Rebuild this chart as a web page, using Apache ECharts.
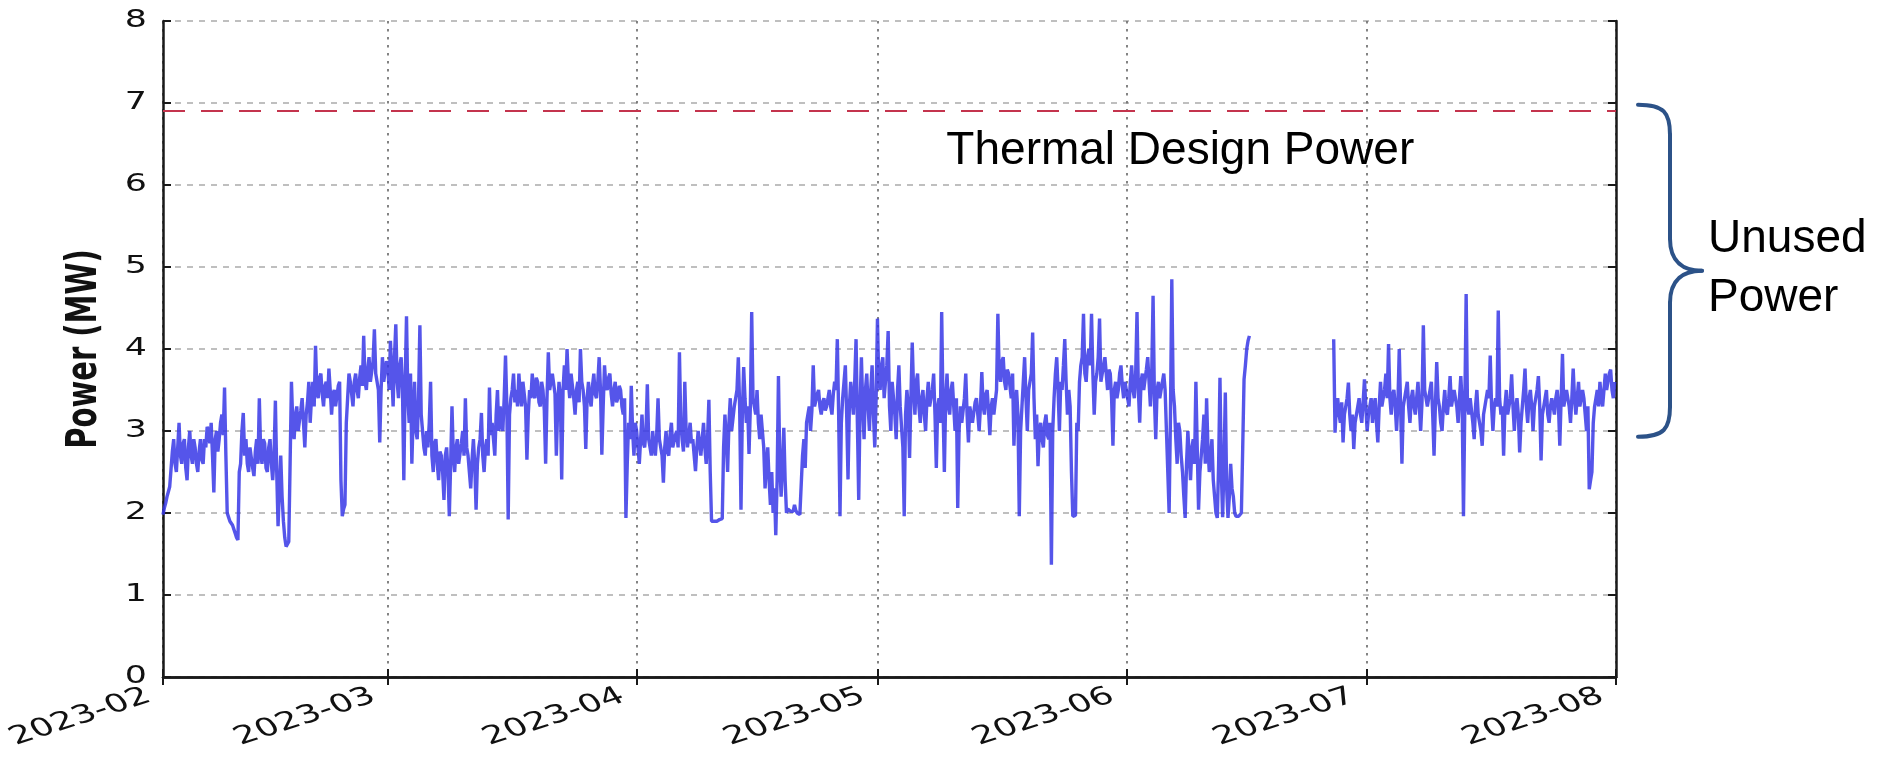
<!DOCTYPE html>
<html>
<head>
<meta charset="utf-8">
<script src="https://cdn.jsdelivr.net/npm/echarts@6/dist/echarts.min.js"></script>
<style>
html,body{margin:0;padding:0;background:#fff;}
#chart{width:1878px;height:761px;}
</style>
</head>
<body>
<div id="chart"></div>
<script>
// ---- data: 6 readings per day (every 4 hours), starting 2023-02-01 00:00, one row per day ----
const startYear = 2023, startMonth = 1, startDay = 1; // Feb 1 (JS month index)
const stepHours = 4;
const powerFeb = [
 1.98,2.06,2.12,2.2,2.26,2.32, 2.3,2.75,2.9,2.6,2.5,2.8, 3.1,2.7,2.6,2.85,2.9,2.55, 2.4,2.8,3.0,2.7,2.6,2.9,
 2.8,2.6,2.5,2.75,2.9,2.65, 2.6,2.9,2.8,3.05,3.0,2.85, 3.1,2.7,2.25,2.9,3.0,2.75, 2.9,3.1,3.2,2.95,3.53,2.7,
 2.0,1.95,1.9,1.88,1.85,1.8, 1.75,1.7,1.67,2.5,2.6,3.0, 3.22,2.7,2.9,2.6,2.5,2.8, 2.8,2.55,2.45,2.75,2.9,2.6,
 3.4,2.75,2.6,2.9,2.85,2.55, 2.5,2.8,2.9,2.6,2.4,2.7, 3.37,2.5,1.84,2.3,2.7,2.2, 1.9,1.7,1.59,1.62,1.65,2.6,
 3.6,3.1,2.9,3.2,3.3,3.0, 3.0,3.25,3.4,3.1,2.8,3.2, 3.35,3.6,3.1,3.4,3.6,3.3, 4.04,3.5,3.4,3.65,3.7,3.45,
 3.3,3.55,3.6,3.4,3.76,3.5, 3.2,3.45,3.5,3.3,3.3,3.55, 3.6,2.4,1.96,2.05,2.1,3.1, 3.4,3.7,3.6,3.45,3.3,3.6,
 3.7,3.5,3.4,3.65,3.8,3.55, 4.16,3.6,3.5,3.75,3.9,3.6, 3.6,3.85,4.24,3.7,3.7,3.5, 2.86,3.5,3.9,3.6,3.6,3.85
];
const powerMar = [
 3.8,3.5,4.1,3.7,3.3,3.9, 4.3,3.6,3.4,3.8,3.9,3.5, 2.4,3.6,4.4,3.4,3.1,3.7, 2.6,3.2,3.6,3.0,2.9,3.4,
 4.29,3.2,3.0,2.8,2.7,3.0, 2.8,3.1,3.6,2.7,2.5,2.85, 2.9,2.6,2.4,2.75,2.7,2.5, 2.16,2.7,2.8,2.5,1.96,2.6,
 3.3,2.7,2.5,2.8,2.9,2.6, 2.6,2.85,3.0,2.7,3.4,2.8, 2.7,2.5,2.3,2.65,2.9,2.6, 2.04,2.6,2.8,2.9,3.22,2.7,
 2.5,2.8,2.9,2.7,3.53,2.95, 3.1,2.9,2.7,3.2,3.5,3.0, 3.3,3.1,3.0,3.4,3.92,3.3, 1.92,3.2,3.4,3.5,3.7,3.35,
 3.5,3.3,3.7,3.45,3.3,3.6, 3.6,3.3,2.65,3.2,3.5,3.4, 3.7,3.45,3.4,3.65,3.6,3.35, 3.3,3.6,3.5,3.25,2.6,3.4,
 3.96,3.5,3.5,3.7,3.7,3.45, 2.7,3.3,3.6,3.4,2.41,3.5, 3.8,3.5,4.0,3.6,3.4,3.7, 3.7,3.4,3.2,3.5,3.6,3.35,
 4.0,3.6,3.5,3.3,2.78,3.4, 3.6,3.4,3.3,3.55,3.7,3.45, 3.4,3.6,3.9,3.5,2.71,3.3, 3.8,3.55,3.5,3.65,3.7,3.45,
 3.3,3.5,3.6,3.35,3.4,3.55, 3.5,3.3,3.2,3.4,1.94,2.6, 3.1,2.9,3.55,3.0,2.7,3.1
];
const powerApr = [
 3.0,2.8,2.6,2.9,3.2,2.85, 2.8,3.0,3.57,2.9,2.9,2.7, 3.0,2.8,2.7,2.95,3.4,2.9, 2.9,2.7,2.37,2.8,3.0,2.75,
 2.7,2.95,3.1,2.8,2.8,2.95, 3.0,2.8,3.96,3.1,2.9,2.75, 3.6,3.0,2.8,2.95,3.1,2.85, 2.9,2.7,2.51,2.8,3.0,2.85,
 2.7,2.9,3.1,2.8,2.6,2.9, 3.38,2.5,1.9,1.9,1.9,1.91, 1.9,1.91,1.92,1.92,1.93,2.8, 3.2,2.9,2.5,3.1,3.4,3.0,
 3.0,3.3,3.3,3.5,3.9,3.3, 2.04,3.2,3.78,3.4,3.1,3.3, 2.72,3.3,4.45,3.4,3.3,3.2, 3.5,3.1,2.9,3.2,3.2,2.8,
 2.3,2.6,2.8,2.4,2.1,2.5, 2.0,2.3,1.73,2.4,3.67,2.6, 2.2,2.6,3.04,2.4,2.0,2.05, 2.05,2.02,2.0,2.02,2.1,2.03,
 2.0,2.02,1.98,2.0,2.7,2.9, 2.55,3.1,3.2,3.3,3.0,3.25, 3.8,3.3,3.3,3.45,3.5,3.3, 3.2,3.35,3.4,3.25,3.3,3.4,
 3.5,3.3,3.2,3.45,3.6,3.5, 4.12,3.2,1.96,3.1,3.4,3.6, 3.8,3.2,2.41,3.3,3.6,3.4, 3.2,3.6,4.12,3.1,2.16,3.3,
 3.9,3.3,2.9,3.5,3.7,3.3, 3.0,3.5,3.8,3.2,2.8,3.4
];
const powerMay = [
 4.37,3.6,3.5,3.8,3.9,3.4, 3.4,3.8,4.22,3.3,3.0,3.6, 3.6,3.2,2.9,3.5,3.8,3.3, 3.3,2.8,1.96,3.2,3.5,3.3,
 2.67,3.4,4.08,3.5,3.2,3.6, 3.7,3.3,3.1,3.4,3.5,3.2, 3.0,3.4,3.6,3.3,3.3,3.5, 3.7,3.2,2.55,3.3,3.4,3.1,
 4.45,3.3,2.5,3.4,3.7,3.3, 3.2,3.5,3.6,3.3,3.0,3.4, 2.06,3.0,3.3,3.1,3.1,3.4, 3.7,3.2,2.86,3.3,3.3,3.1,
 3.1,3.35,3.4,3.2,3.0,3.3, 3.72,3.3,3.2,3.45,3.5,3.25, 2.95,3.3,3.4,3.2,3.2,3.5, 4.43,3.7,3.6,3.85,3.9,3.6,
 3.5,3.75,3.7,3.55,3.4,3.7, 2.82,3.3,3.5,3.2,1.96,3.0, 3.3,3.6,3.9,3.4,3.0,3.5, 3.5,3.7,4.2,3.4,2.9,3.2,
 2.57,3.0,3.1,2.9,2.8,3.1, 3.2,2.95,2.9,3.1,1.37,3.0, 3.4,3.7,3.9,3.5,3.0,3.6, 3.5,3.8,4.12,3.6,3.2,3.5,
 3.3,2.5,1.96,1.96,1.97,3.1, 3.0,3.6,3.8,3.9,4.43,3.7, 3.6,3.9,4.0,3.8,4.43,3.7, 3.2,3.6,3.7,3.9,4.37,3.6,
 3.6,3.8,3.9,3.7,3.5,3.75, 3.7,3.4,2.82,3.5,3.6,3.4, 3.5,3.7,3.8,3.55,3.4,3.6
];
const powerJun = [
 3.6,3.4,3.3,3.6,3.8,3.5, 3.4,3.7,4.45,3.5,3.1,3.6, 3.7,3.5,3.5,3.75,3.9,3.6, 3.3,3.7,4.65,3.4,2.9,3.5,
 3.6,3.4,3.4,3.6,3.7,3.5, 3.0,2.5,2.0,3.2,4.85,3.5, 3.3,2.9,2.6,3.1,3.0,2.7, 2.5,2.2,1.94,2.6,3.0,2.7,
 2.4,2.8,2.9,2.6,3.6,2.8, 2.04,2.5,2.7,2.9,3.2,2.6, 3.4,2.8,2.5,2.7,2.9,2.4, 2.2,2.0,1.94,2.6,3.65,2.5,
 1.95,2.6,3.47,2.3,1.94,2.2, 2.6,2.3,2.2,2.0,1.96,1.97, 1.96,1.98,2.0,2.8,3.63,3.8, 4.0,4.1,4.16,null,null,null,
 null,null,null,null,null,null, null,null,null,null,null,null, null,null,null,null,null,null,
 null,null,null,null,null,null, null,null,null,null,null,null, null,null,null,null,null,null,
 null,null,null,null,null,null, null,null,null,null,null,null, null,null,null,null,null,null,
 null,null,null,null,null,4.12, 2.98,3.3,3.4,3.2,3.1,3.35, 2.86,3.2,3.3,3.4,3.59,3.2, 3.0,3.2,2.78,3.1,3.2,3.3,
 3.4,3.2,3.1,3.35,3.63,3.3
];
const powerJul = [
 3.0,3.2,3.3,3.4,3.1,3.3, 3.4,3.1,2.86,3.3,3.6,3.3, 3.3,3.5,3.7,3.4,4.06,3.4, 3.2,3.45,3.5,3.3,3.0,3.35,
 4.0,3.3,2.6,3.3,3.4,3.5, 3.6,3.3,3.1,3.4,3.5,3.3, 3.2,3.4,3.6,3.3,3.0,3.35, 4.29,3.5,3.4,3.3,3.3,3.5,
 3.6,3.2,2.7,3.3,3.84,3.4, 3.3,3.1,3.0,3.3,3.5,3.25, 3.2,3.4,3.67,3.3,3.3,3.5, 3.5,3.3,3.1,3.4,3.67,3.35,
 1.96,3.3,4.67,3.3,3.2,3.4, 3.4,3.1,2.9,3.3,3.5,3.2, 3.1,3.0,2.82,3.2,3.3,3.4, 3.5,3.4,3.92,3.3,3.0,3.3,
 3.4,3.3,4.47,3.4,3.2,3.3, 2.7,3.3,3.5,3.2,3.3,3.4, 3.69,3.3,3.0,3.3,3.4,3.2, 2.74,3.1,3.3,3.5,3.76,3.3,
 3.1,3.4,3.5,3.3,3.0,3.3, 3.4,3.5,3.67,3.3,2.64,3.2, 3.3,3.4,3.5,3.2,3.1,3.3, 3.4,3.3,3.2,3.4,3.5,3.3,
 2.82,3.4,3.94,3.3,3.3,3.5, 3.5,3.3,3.1,3.4,3.76,3.4, 3.2,3.4,3.6,3.3,3.3,3.5, 3.4,3.2,3.0,3.3,2.29,2.4,
 2.5,3.1,3.3,3.4,3.5,3.3, 3.6,3.4,3.3,3.5,3.7,3.5, 3.5,3.7,3.75,3.5,3.4,3.6
];
const tdpMW = 6.9;
const yTicks = [0,1,2,3,4,5,6,7,8];
const xTickLabels = ['2023-02','2023-03','2023-04','2023-05','2023-06','2023-07','2023-08'];
const yName = 'Power (MW)';
const tdpLabel = 'Thermal Design Power';
const unusedLabel = ['Unused', 'Power'];

// ---- build table ----
const allPower = [].concat(powerFeb, powerMar, powerApr, powerMay, powerJun, powerJul);
const t0 = new Date(startYear, startMonth, startDay).getTime();
const seriesData = allPower.map((v, i) => [t0 + i * stepHours * 3600000, v]);
const tickTimes = xTickLabels.map(s => { const p = s.split('-'); return new Date(+p[0], +p[1] - 1, 1).getTime(); });
const tMin = tickTimes[0];
const tMax = tickTimes[tickTimes.length - 1];

const chart = echarts.init(document.getElementById('chart'), null, {renderer: 'canvas'});
const axisColor = '#1a1a1a';
const labelFont = '"DejaVu Sans", Verdana, sans-serif';
const stretch = 1.45;

chart.setOption({
  animation: false,
  backgroundColor: '#ffffff',
  grid: {left: 163, right: 262, top: 21, bottom: 84, containLabel: false},
  xAxis: [{
    type: 'time', min: tMin, max: tMax, splitNumber: 6,
    minInterval: 28 * 86400000,
    axisLine: {show: true, lineStyle: {color: axisColor, width: 2.5}},
    axisTick: {show: true, inside: true, length: 8, lineStyle: {color: axisColor, width: 2}},
    axisLabel: {show: false},
    splitLine: {show: true, lineStyle: {color: '#6f6f6f', width: 1.7, type: [2.5, 5.5]}}
  }, {
    type: 'time', min: tMin, max: tMax, splitNumber: 6, position: 'top',
    minInterval: 28 * 86400000,
    axisLine: {show: true, lineStyle: {color: axisColor, width: 2.5}},
    axisTick: {show: true, inside: true, length: 8, lineStyle: {color: axisColor, width: 2}},
    axisLabel: {show: false},
    splitLine: {show: false}
  }],
  yAxis: [{
    type: 'value', min: yTicks[0], max: yTicks[yTicks.length - 1], interval: 1,
    axisLine: {show: true, lineStyle: {color: axisColor, width: 2.5}},
    axisTick: {show: true, inside: true, length: 8, lineStyle: {color: axisColor, width: 2}},
    axisLabel: {show: false},
    splitLine: {show: true, lineStyle: {color: '#b0b0b0', width: 1.6, type: [6, 6]}}
  }, {
    type: 'value', min: yTicks[0], max: yTicks[yTicks.length - 1], interval: 1, position: 'right',
    axisLine: {show: true, lineStyle: {color: axisColor, width: 2.5}},
    axisTick: {show: true, inside: true, length: 8, lineStyle: {color: axisColor, width: 2}},
    axisLabel: {show: false},
    splitLine: {show: false}
  }],
  series: [{
    type: 'line', name: 'Power', xAxisIndex: 0, yAxisIndex: 0,
    data: seriesData, showSymbol: false, connectNulls: false, sampling: 'none', large: false,
    lineStyle: {color: '#3737e6', width: 3.4, opacity: 0.85, join: 'bevel'},
    markLine: {
      silent: true, symbol: ['none', 'none'], label: {show: false},
      lineStyle: {color: '#c4344d', width: 2, type: [22, 16]},
      data: [{yAxis: tdpMW}]
    }
  }]
});

function place() {
  const g = [];
  const axisY = chart.convertToPixel({yAxisIndex: 0}, 0);
  const leftX = chart.convertToPixel({xAxisIndex: 0}, tMin);
  // x tick labels (stretched, rotated like the source figure)
  xTickLabels.forEach((lab, i) => {
    const px = chart.convertToPixel({xAxisIndex: 0}, tickTimes[i]);
    g.push({type: 'group', x: px - 14, y: axisY + 18, scaleX: stretch, silent: true, children: [
      {type: 'text', rotation: 25 * Math.PI / 180,
       style: {text: lab, font: '25px ' + labelFont, fill: '#111', align: 'right', verticalAlign: 'middle',
               textAlign: 'right', textVerticalAlign: 'middle'}}
    ]});
  });
  // y tick labels
  yTicks.forEach(v => {
    const py = chart.convertToPixel({yAxisIndex: 0}, v);
    g.push({type: 'group', x: leftX - 16, y: py, scaleX: stretch, silent: true, children: [
      {type: 'text',
       style: {text: String(v), font: '24px ' + labelFont, fill: '#111', align: 'right', verticalAlign: 'middle',
               textAlign: 'right', textVerticalAlign: 'middle'}}
    ]});
  });
  // y axis name
  const midY = (chart.convertToPixel({yAxisIndex: 0}, yTicks[0]) + chart.convertToPixel({yAxisIndex: 0}, yTicks[yTicks.length - 1])) / 2;
  g.push({type: 'group', x: leftX - 78, y: midY, scaleX: stretch, silent: true, children: [
    {type: 'text', rotation: Math.PI / 2,
     style: {text: yName, font: 'bold 29px ' + labelFont, fill: '#111', align: 'center', verticalAlign: 'middle',
             textAlign: 'center', textVerticalAlign: 'middle'}}
  ]});

  // annotations
  const tdpY = chart.convertToPixel({yAxisIndex: 0}, tdpMW);
  const textX = chart.convertToPixel({xAxisIndex: 0}, new Date(2023, 4, 9, 14).getTime());
  const rightX = chart.convertToPixel({xAxisIndex: 0}, tMax);
  const top = chart.convertToPixel({yAxisIndex: 0}, 6.98);
  const bot = chart.convertToPixel({yAxisIndex: 0}, 2.93);
  const mid = (top + bot) / 2;
  const x0 = rightX + 22, x1 = rightX + 54, x2 = rightX + 86;
  const annoFont = '46px "Liberation Sans", Arial, sans-serif';
  g.push({type: 'text', x: textX, y: tdpY + 40, silent: true,
    style: {text: tdpLabel, font: annoFont, fill: '#000', align: 'left', verticalAlign: 'middle',
            textAlign: 'left', textVerticalAlign: 'middle'}});
  const bs = {fill: null, stroke: '#2c5288', lineWidth: 4, lineCap: 'round'};
  g.push({type: 'bezierCurve', silent: true, style: bs,
    shape: {x1: x0, y1: top, cpx1: x0 + 26, cpy1: top, cpx2: x1, cpy2: top + 8, x2: x1, y2: top + 30}});
  g.push({type: 'line', silent: true, style: bs,
    shape: {x1: x1, y1: top + 30, x2: x1, y2: mid - 32}});
  g.push({type: 'bezierCurve', silent: true, style: bs,
    shape: {x1: x1, y1: mid - 32, cpx1: x1, cpy1: mid - 8, cpx2: x1 + 14, cpy2: mid, x2: x2, y2: mid}});
  g.push({type: 'bezierCurve', silent: true, style: bs,
    shape: {x1: x2, y1: mid, cpx1: x1 + 14, cpy1: mid, cpx2: x1, cpy2: mid + 8, x2: x1, y2: mid + 32}});
  g.push({type: 'line', silent: true, style: bs,
    shape: {x1: x1, y1: mid + 32, x2: x1, y2: bot - 30}});
  g.push({type: 'bezierCurve', silent: true, style: bs,
    shape: {x1: x1, y1: bot - 30, cpx1: x1, cpy1: bot - 8, cpx2: x0 + 26, cpy2: bot, x2: x0, y2: bot}});
  g.push({type: 'text', x: rightX + 92, y: mid - 31, silent: true,
    style: {text: unusedLabel[0], font: annoFont, fill: '#000', align: 'left', verticalAlign: 'middle',
            textAlign: 'left', textVerticalAlign: 'middle'}});
  g.push({type: 'text', x: rightX + 92, y: mid + 28, silent: true,
    style: {text: unusedLabel[1], font: annoFont, fill: '#000', align: 'left', verticalAlign: 'middle',
            textAlign: 'left', textVerticalAlign: 'middle'}});
  chart.setOption({graphic: g});
}
place();
</script>
</body>
</html>
